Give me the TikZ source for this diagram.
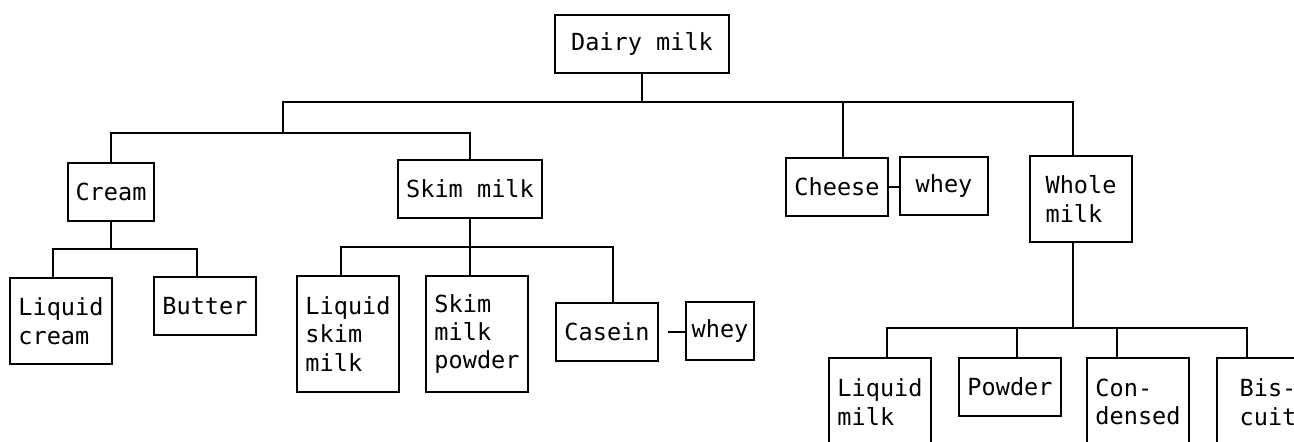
\documentclass[tikz,border=0pt]{standalone}
\usepackage{fontspec}
\newfontfamily\dotfont{DejaVu Sans Mono}

\tikzset{
  box/.style={draw, inner sep=0pt, align=left, minimum width=2.04cm, minimum height=1.16cm,
    font={\dotfont\fontsize{13.4pt}{16.2pt}\selectfont}},
  tall/.style={minimum height=1.72cm},
  taller/.style={minimum height=2.32cm},
  cut/.style={minimum height=1.76cm}
}

\begin{document}
\begin{tikzpicture}[x=0.02cm, y=-0.02cm, line width=0.9pt]
\useasboundingbox (0,0) rectangle (1294,441);
\clip (0,0) rectangle (1294,441);
\node[box, minimum width=3.48cm](dairy) at (642,44){Dairy milk};
\node[box, minimum width=1.72cm](cream) at (111,192){Cream};
\node[box, minimum width=2.88cm](skim) at (470,189){Skim milk};
\node[box](cheese) at (837,187){Cheese};
\node[box, minimum width=1.76cm](wheyA) at (944,186){whey};
\node[box, tall](whole) at (1081,199){Whole\\milk};
\node[box, tall](lcream) at (61,321){Liquid\\cream};
\node[box](butter) at (205,306){Butter};
\node[box, taller](lskim) at (348,334){Liquid\\skim\\milk};
\node[box, taller](skimpow) at (477,334){Skim\\milk\\powder};
\node[box](casein) at (607,332){Casein};
\node[box, minimum width=1.36cm](wheyB) at (720,331){whey};
\node[box, cut](lmilk) at (880,402){Liquid\\milk};
\node[box](powder) at (1010,387){Powder};
\node[box, cut](condensed) at (1138,402){Con-\\densed};
\node[box, cut](biscuit) at (1268,402){Bis-\\cuit};
\coordinate (dl) at (283,102);
\coordinate (dc) at (843,102);
\coordinate (dr) at (1073,102);
\coordinate (ll) at (111,133);
\coordinate (lr) at (470,133);
\coordinate (cl) at (53,249);
\coordinate (cr) at (197,249);
\coordinate (sl) at (341,247);
\coordinate (sm) at (470,247);
\coordinate (sr) at (613,247);
\coordinate (wl) at (887,328);
\coordinate (w2) at (1017,328);
\coordinate (w3) at (1117,328);
\coordinate (wr) at (1247,328);
\draw (dairy) -- (dairy |- dl);
\draw (dl |- ll) -- (dl) -- (dr) -- (dr |- whole.north);
\draw (dc) -- (dc |- cheese.north);
\draw (cream) -- (ll) -- (lr) -- (lr |- skim.north);
\draw (cheese) -- (cheese -| wheyA.west);
\draw (cream) -- (cream |- cl);
\draw (cl |- lcream.north) -- (cl) -- (cr) -- (cr |- butter.north);
\draw (skim) -- (sm |- skimpow.north);
\draw (sl |- lskim.north) -- (sl) -- (sr) -- (sr |- casein.north);
\draw[shorten <=0.18cm] (casein) -- (casein -| wheyB.west);
\draw (dr |- whole.south) -- (dr |- wl);
\draw (wl |- lmilk.north) -- (wl) -- (wr) -- (wr |- biscuit.north);
\draw (w2) -- (w2 |- powder.north);
\draw (w3) -- (w3 |- condensed.north);
\end{tikzpicture}
\end{document}
